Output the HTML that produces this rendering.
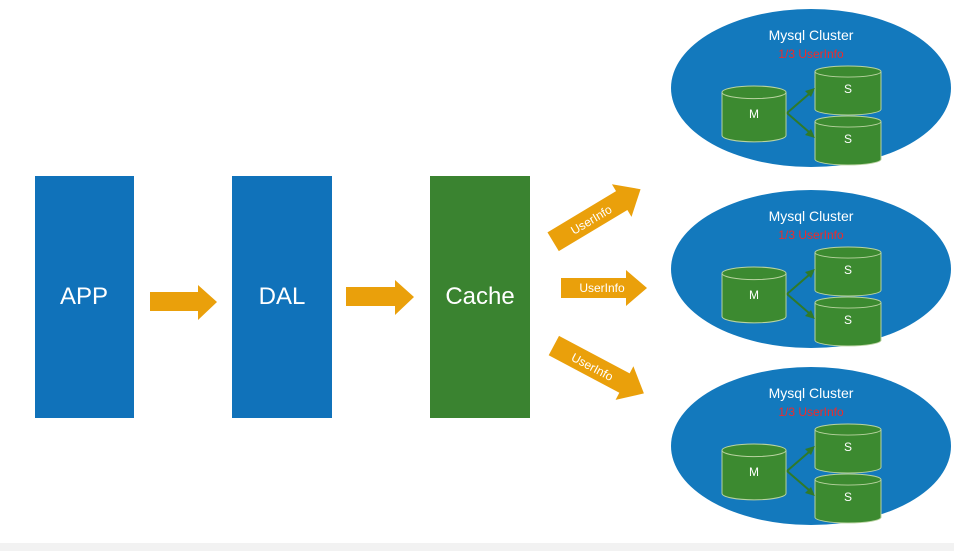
<!DOCTYPE html>
<html><head><style>
html,body{margin:0;padding:0;background:#fff;}
svg{display:block;}
text{font-family:"Liberation Sans",sans-serif;}
</style></head><body>
<svg width="954" height="551" viewBox="0 0 954 551" xmlns="http://www.w3.org/2000/svg">
<defs>
<g id="cyl">
<path d="M0,6 L0,47 A32,6 0 0 0 66,47 L66,6" fill="#3c8a30" stroke="#b9d3a0" stroke-width="1"/>
<ellipse cx="33" cy="6" rx="33" ry="6" fill="#3c8a30" stroke="#b9d3a0" stroke-width="1"/>
</g>
<g id="cluster">
<ellipse cx="811" cy="88" rx="140" ry="79" fill="#1379bd"/>
<text x="811" y="40" font-size="14" fill="#fff" text-anchor="middle">Mysql Cluster</text>
<text x="811" y="58" font-size="12" fill="#ee2b2b" text-anchor="middle">1/3 UserInfo</text>
<use href="#cyl" transform="translate(722,86) scale(0.97,1.05)"/>
<use href="#cyl" transform="translate(815,66) scale(1,0.92)"/>
<use href="#cyl" transform="translate(815,116) scale(1,0.92)"/>
<text x="754" y="118" font-size="12" fill="#fff" text-anchor="middle">M</text>
<text x="848" y="93" font-size="12" fill="#fff" text-anchor="middle">S</text>
<text x="848" y="143" font-size="12" fill="#fff" text-anchor="middle">S</text>
<line x1="787" y1="113" x2="809" y2="94" stroke="#2f7a2a" stroke-width="2"/>
<polygon points="815,88 805,91 811,97" fill="#2f7a2a"/>
<line x1="787" y1="113" x2="809" y2="132" stroke="#2f7a2a" stroke-width="2"/>
<polygon points="815,138 805,135 811,129" fill="#2f7a2a"/>
</g>
</defs>
<rect x="0" y="543" width="954" height="8" fill="#f2f2f2"/>
<rect x="35" y="176" width="99" height="242" fill="#1072ba"/>
<rect x="232" y="176" width="100" height="242" fill="#1072ba"/>
<rect x="430" y="176" width="100" height="242" fill="#3a8330"/>
<text x="84" y="304" font-size="24" fill="#fff" text-anchor="middle">APP</text>
<text x="282" y="304" font-size="24" fill="#fff" text-anchor="middle">DAL</text>
<text x="480" y="304" font-size="24" fill="#fff" text-anchor="middle">Cache</text>
<polygon points="150,292 198,292 198,285 217,302 198,320 198,311 150,311" fill="#eaa00b"/>
<polygon points="346,287 395,287 395,280 414,297 395,315 395,306 346,306" fill="#eaa00b"/>
<use href="#cluster"/>
<use href="#cluster" transform="translate(0,181)"/>
<use href="#cluster" transform="translate(0,358)"/>
<g transform="translate(596,216) rotate(-31)">
<polygon points="-50,-11 30,-11 30,-19 52,0 30,19 30,11 -50,11" fill="#eaa00b"/>
<text x="-6" y="5" font-size="12" fill="#fff" text-anchor="middle">UserInfo</text>
</g>
<g transform="translate(604,288)">
<polygon points="-43,-10 22,-10 22,-18 43,0 22,18 22,10 -43,10" fill="#eaa00b"/>
<text x="-2" y="4" font-size="12" fill="#fff" text-anchor="middle">UserInfo</text>
</g>
<g transform="translate(598,369) rotate(28)">
<polygon points="-50,-11 30,-11 30,-19 52,0 30,19 30,11 -50,11" fill="#eaa00b"/>
<text x="-6" y="5" font-size="12" fill="#fff" text-anchor="middle">UserInfo</text>
</g>
</svg>
</body></html>
